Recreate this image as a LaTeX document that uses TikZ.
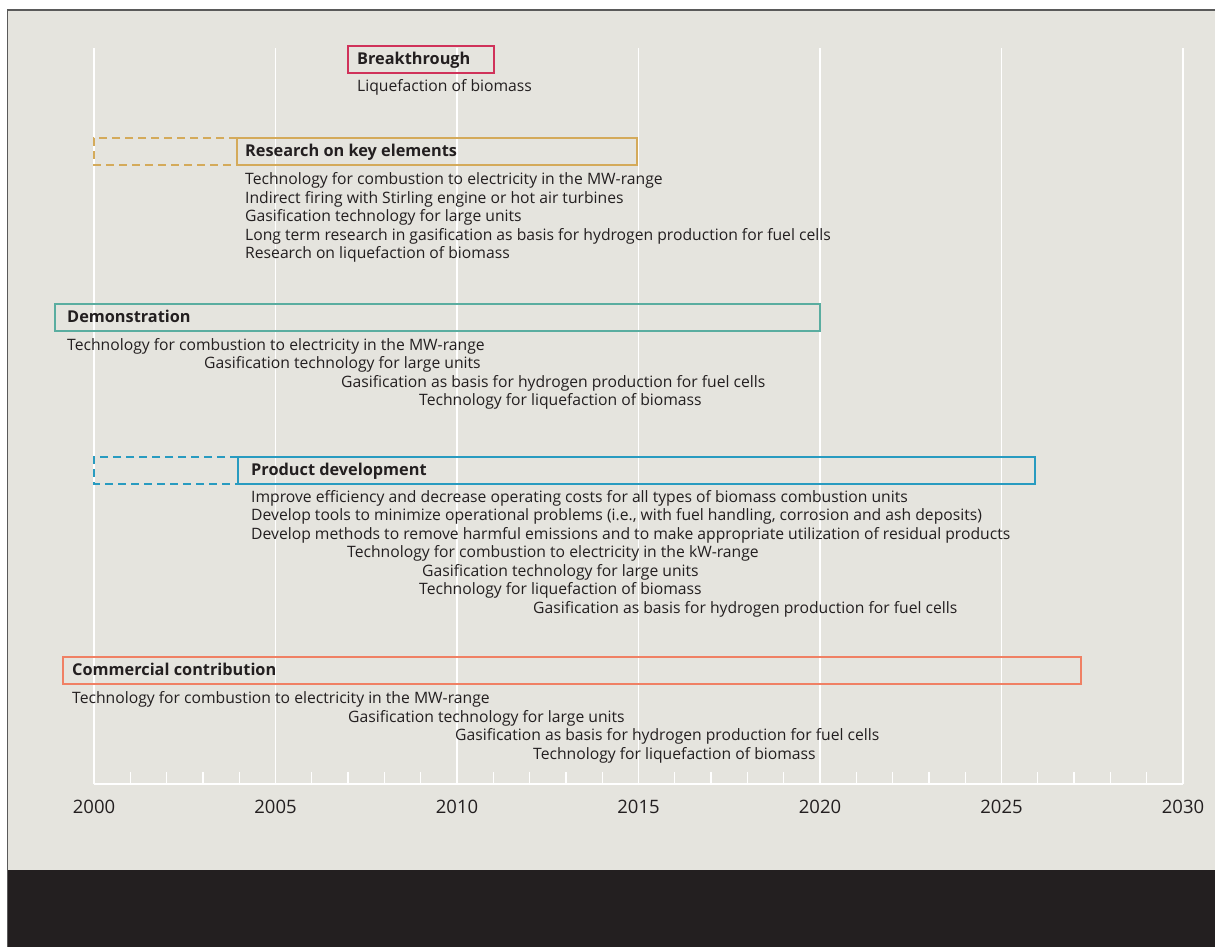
\documentclass[tikz,border=0pt]{standalone}
\usepackage{fontspec}
\setmainfont{Open Sans}
\usetikzlibrary{positioning}
\definecolor{paperGrey}{RGB}{229, 228, 222}
\definecolor{bandBlack}{RGB}{35, 31, 32}
\definecolor{frameGrey}{RGB}{90, 90, 90}
\definecolor{inkBlack}{RGB}{35, 31, 32}
\definecolor{themeCrimson}{RGB}{208, 50, 90}
\definecolor{themeGold}{RGB}{212, 170, 90}
\definecolor{themeTeal}{RGB}{90, 173, 160}
\definecolor{themeBlue}{RGB}{40, 155, 192}
\definecolor{themeSalmon}{RGB}{240, 128, 100}

\begin{document}
\begin{tikzpicture} [
        x=1pt, y=-1pt,
        head/.style={anchor=base west, inner sep=0pt, text=inkBlack, font=\bfseries\fontsize{16.3}{18}\selectfont},
        item/.style={anchor=base west, inner sep=0pt, text=inkBlack, font=\fontsize{15.7}{18}\selectfont},
        yearlabel/.style={anchor=base, inner sep=0pt, text=inkBlack, font=\fontsize{18.5}{22}\selectfont},
        phase/.style={line width=1.2pt},
        later/.style={line width=1.2pt, dash pattern=on 8pt off 5pt},
        gridline/.style={draw=white, line width=1.3pt}
    ]
        \useasboundingbox (0, 0) rectangle (1215, 947);
        \fill[white] (0, 0) rectangle (1215, 947);
        \fill[paperGrey] (7.5, 10) rectangle (1215, 870);
        \fill[bandBlack] (7.5, 870) rectangle (1215, 947);
        \draw[frameGrey, line width=1.5pt] (7.5, 947) -- (7.5, 10) -- (1215, 10);

        % time axis
        \foreach \k in {0, ..., 6} {
            \draw[gridline] (94 + 181.5*\k, 48) -- (94 + 181.5*\k, 784);
            \pgfmathtruncatemacro{\yr}{2000 + 5*\k}
            \node[yearlabel] (y\yr) at (94 + 181.5*\k, 813) {\yr};
        }
        \foreach \k in {1, ..., 29} {
            \draw[gridline] (94 + 36.3*\k, 772) -- (94 + 36.3*\k, 784);
        }
        \draw[gridline] (94, 784) -- (1183, 784);

        % PHASE: breakthrough
        \draw[phase, themeCrimson] (348, 46) rectangle (494, 73);
        \node[head] (brk) at (357, 64.5) {Breakthrough};
        \node[item] (brk1) at (357, 92) {Liquefaction of biomass};

        % PHASE: research
        \draw[later, themeGold] (237, 138) -- (94, 138) -- (94, 165) -- (237, 165);
        \draw[phase, themeGold] (237, 138) rectangle (637, 165);
        \node[head] (res) at (245, 156.5) {Research on key elements};
        \node[item] (res1) at (245, 184.5) {Technology for combustion to electricity in the MW-range};
        \node[item] (res2) at (245, 203) {Indirect firing with Stirling engine or hot air turbines};
        \node[item] (res3) at (245, 221.5) {Gasification technology for large units};
        \node[item] (res4) at (245, 240) {Long term research in gasification as basis for hydrogen production for fuel cells};
        \node[item] (res5) at (245, 258.5) {Research on liquefaction of biomass};

        % PHASE: demonstration
        \draw[phase, themeTeal] (55, 304) rectangle (820, 331);
        \node[head] (dem) at (67, 322.5) {Demonstration};
        \node[item] (dem1) at (67, 350) {Technology for combustion to electricity in the MW-range};
        \node[item] (dem2) at (204, 368.5) {Gasification technology for large units};
        \node[item] (dem3) at (341, 387) {Gasification as basis for hydrogen production for fuel cells};
        \node[item] (dem4) at (419, 405.5) {Technology for liquefaction of biomass};

        % PHASE: product development
        \draw[later, themeBlue] (238, 457) -- (94, 457) -- (94, 484) -- (238, 484);
        \draw[phase, themeBlue] (238, 457) rectangle (1035, 484);
        \node[head] (pro) at (251, 475) {Product development};
        \node[item] (pro1) at (251, 502) {Improve efficiency and decrease operating costs for all types of biomass combustion units};
        \node[item] (pro2) at (251, 520.5) {Develop tools to minimize operational problems (i.e., with fuel handling, corrosion and ash deposits)};
        \node[item] (pro3) at (251, 539) {Develop methods to remove harmful emissions and to make appropriate utilization of residual products};
        \node[item] (pro4) at (347, 557.5) {Technology for combustion to electricity in the kW-range};
        \node[item] (pro5) at (422, 576) {Gasification technology for large units};
        \node[item] (pro6) at (419, 594.5) {Technology for liquefaction of biomass};
        \node[item] (pro7) at (533, 613) {Gasification as basis for hydrogen production for fuel cells};

        % PHASE: commercial contribution
        \draw[phase, themeSalmon] (63, 657) rectangle (1081, 684);
        \node[head] (com) at (72, 675.5) {Commercial contribution};
        \node[item] (com1) at (72, 703.5) {Technology for combustion to electricity in the MW-range};
        \node[item] (com2) at (348, 722) {Gasification technology for large units};
        \node[item] (com3) at (455, 740.5) {Gasification as basis for hydrogen production for fuel cells};
        \node[item] (com4) at (533, 759) {Technology for liquefaction of biomass};
    \end{tikzpicture}
\end{document}
